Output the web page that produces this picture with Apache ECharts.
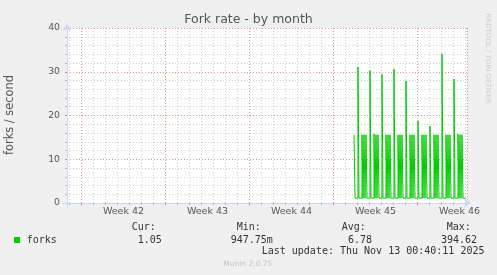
<!DOCTYPE html>
<html><head><meta charset="utf-8">
<script src="https://cdn.jsdelivr.net/npm/echarts@6/dist/echarts.min.js"></script>
<style>html,body{margin:0;padding:0;background:#F0F0F0}#c{width:497px;height:275px}</style>
</head><body><div id="c"></div>
<script>
const chartTitle = 'Fork rate - by month';
const yAxisName = 'forks / second';
const weekLabels = ['Week 42', 'Week 43', 'Week 44', 'Week 45', 'Week 46'];
const firstDayHour = 5;       // first day boundary, hours after graph start
const firstWeekHour = 29;     // first week boundary, hours after graph start
const hoursPerDay = 24;
const hoursPerWeek = 168;
const yTicks = [0, 10, 20, 30, 40];
const spanHours = 800;
const slotHours = 2;
const firstSampleHour = 574;
// forks per second, one value per 2-hour slot
const forks = [
  15.6, 1.1, 1.1, 1.1,
  31.1, 1.1, 1.1, 1.1, 15.6, 1.1, 15.6, 1.1, 15.6, 1.1, 1.1, 1.1,
  30.3, 1.1, 1.1, 1.1, 15.8, 1.1, 15.6, 1.1, 15.6, 1.1, 1.1, 1.1,
  29.4, 1.1, 1.1, 1.1, 15.6, 1.1, 15.6, 1.1, 15.6, 1.1, 1.1, 1.1,
  30.6, 1.1, 1.1, 1.1, 15.6, 1.1, 15.6, 1.1, 15.6, 1.1, 1.1, 1.1,
  27.9, 1.1, 1.1, 1.1, 15.6, 1.1, 15.6, 1.1, 15.6, 1.1, 1.1, 1.1,
  18.8, 1.1, 1.1, 1.1, 15.6, 1.1, 15.6, 1.1, 15.6, 1.1, 1.1, 1.1,
  17.6, 1.1, 1.1, 1.1, 15.6, 1.1, 15.6, 1.1, 15.6, 1.1, 1.1, 1.1,
  34.1, 1.1, 1.1, 1.1, 15.6, 1.1, 15.6, 1.1, 15.6, 1.1, 1.1, 1.1,
  28.3, 1.1, 1.1, 1.1, 15.8, 1.1, 15.6, 1.1, 15.6, 1.1, 1.1, 1.1, 1.1
];
const legendName = 'forks';
const legendHeaders = ['Cur:', 'Min:', 'Avg:', 'Max:'];
const legendValues = ['1.05', '947.75m', '6.78', '394.62'];
const lastUpdate = 'Last update: Thu Nov 13 00:40:11 2025';
const versionText = 'Munin 2.0.75';
const sideText = 'RRDTOOL / TOBI OETIKER';

const weekMid = weekLabels.map((_, i) => firstWeekHour + i * hoursPerWeek + hoursPerWeek / 2);
const seriesData = forks.map((v, i) => [firstSampleHour + i * slotHours, v]);

const mono = '"DejaVu Sans Mono", monospace';
const sans = '"DejaVu Sans", sans-serif';
const txtColor = '#333333';
const headerX = [131.7, 236.7, 341.7, 446.7];
const valueX = [137.7, 230.7, 348, 441];

const axisCol = '#CFD6F8';
const minorCol = '#CFCFCF';
const majorCol = '#E49494';

const L = 67, T = 28, W = 400, H = 175;
const pxPerHour = W / spanHours;

const graphics = [
  { type: 'text', style: { text: chartTitle, x: 248.5, y: 19.3, align: 'center', verticalAlign: 'middle', font: '12.5px ' + sans, fill: '#555555' } },
  { type: 'text', x: 10.5, y: 115, rotation: Math.PI / 2, style: { text: yAxisName, x: 0, y: 0, align: 'center', verticalAlign: 'middle', font: '11.4px ' + sans, fill: '#555555' } },
  { type: 'text', x: 487.5, y: 58.5, rotation: -Math.PI / 2, style: { text: sideText, x: 0, y: 0, align: 'center', verticalAlign: 'middle', font: '7px ' + sans, fill: '#CCCCCC' } },
  { type: 'rect', shape: { x: 14, y: 237, width: 6, height: 6 }, style: { fill: '#00CC00' } },
  { type: 'text', style: { text: legendName, x: 26.7, y: 240, verticalAlign: 'middle', font: '10px ' + mono, fill: txtColor } },
  { type: 'text', style: { text: lastUpdate, x: 261.7, y: 251.7, verticalAlign: 'middle', font: '10px ' + mono, fill: txtColor } },
  { type: 'text', style: { text: versionText, x: 223.3, y: 264, verticalAlign: 'middle', font: '7.5px ' + sans, fill: '#C4C4C4' } },
  { type: 'line', shape: { x1: 62.5, y1: 203.5, x2: 67, y2: 203.5 }, style: { stroke: axisCol, lineWidth: 1 }, z: 10 },
  { type: 'line', shape: { x1: 67.5, y1: 203, x2: 67.5, y2: 207.5 }, style: { stroke: axisCol, lineWidth: 1 }, z: 10 }
];
legendHeaders.forEach((t, i) => graphics.push({ type: 'text', style: { text: t, x: headerX[i], y: 227.7, verticalAlign: 'middle', font: '10px ' + mono, fill: txtColor } }));
legendValues.forEach((t, i) => graphics.push({ type: 'text', style: { text: t, x: valueX[i], y: 240, verticalAlign: 'middle', font: '10px ' + mono, fill: txtColor } }));

// helper grids whose left edge sits on the first day / week boundary
const gridAxis = (gi, offsetHours, interval, color, tickColor) => ({
  type: 'value', gridIndex: gi, min: 0, max: spanHours - offsetHours, interval: interval,
  axisLine: { show: false }, axisLabel: { show: false },
  axisTick: { show: true, length: 2, lineStyle: { color: tickColor } },
  splitLine: { show: true, lineStyle: { color: color, type: [1, 2], width: 1 } }
});

const chart = echarts.init(document.getElementById('c'), null, { renderer: 'canvas' });
chart.setOption({
  animation: false,
  backgroundColor: '#F0F0F0',
  grid: [
    { left: L, top: T, width: W, height: H, show: true, backgroundColor: '#FFFFFF', borderWidth: 0 },
    { left: L + firstDayHour * pxPerHour, top: T, width: W - firstDayHour * pxPerHour, height: H, show: false },
    { left: L + firstWeekHour * pxPerHour, top: T, width: W - firstWeekHour * pxPerHour, height: H, show: false }
  ],
  xAxis: [
    {
      type: 'value', gridIndex: 0, min: 0, max: spanHours,
      axisLine: { show: true, onZero: false, lineStyle: { color: axisCol }, symbol: ['none', 'arrow'], symbolSize: [7, 7], symbolOffset: [0, 4] },
      axisTick: { show: false },
      splitLine: { show: false },
      axisLabel: { customValues: weekMid, formatter: v => weekLabels[weekMid.indexOf(v)], fontSize: 9.5, fontFamily: 'DejaVu Sans', color: '#555555', margin: 4 }
    },
    gridAxis(1, firstDayHour, hoursPerDay, minorCol, '#BBBBBB'),
    gridAxis(2, firstWeekHour, hoursPerWeek, majorCol, '#E08080')
  ],
  yAxis: [
    {
      type: 'value', gridIndex: 0, min: 0, max: 40, interval: 10,
      axisLine: { show: true, onZero: false, lineStyle: { color: axisCol }, symbol: ['none', 'arrow'], symbolSize: [7, 7], symbolOffset: [0, 4] },
      axisTick: { show: true, length: 2, lineStyle: { color: '#E08080' } },
      minorTick: { show: true, splitNumber: 5, length: 2, lineStyle: { color: '#BBBBBB' } },
      splitLine: { show: true, lineStyle: { color: majorCol, type: [1, 2] } },
      minorSplitLine: { show: true, lineStyle: { color: minorCol, type: [1, 2] } },
      axisLabel: { customValues: yTicks, fontSize: 9.3, fontFamily: 'DejaVu Sans', color: '#555555', margin: 7 }
    },
    { type: 'value', gridIndex: 1, min: 0, max: 40, show: false },
    { type: 'value', gridIndex: 2, min: 0, max: 40, show: false }
  ],
  series: [{
    type: 'line', name: legendName, xAxisIndex: 0, yAxisIndex: 0,
    data: seriesData, step: 'end', showSymbol: false, symbol: 'none',
    lineStyle: { color: '#00CC00', width: 1 }, z: 5
  }],
  graphic: graphics
});
</script></body></html>
